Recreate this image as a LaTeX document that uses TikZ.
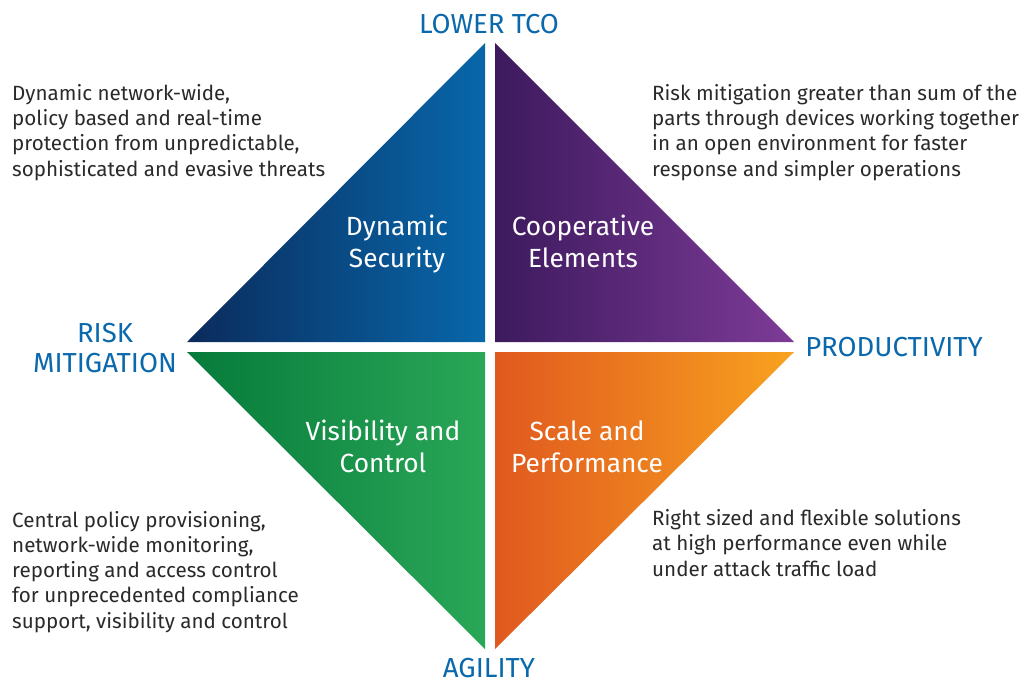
\documentclass[tikz,border=0pt]{standalone}
\usepackage{fontspec}
\setmainfont{Fira Sans}
\definecolor{lblblue}{HTML}{0A68AC}
\definecolor{txtgray}{HTML}{2A2A2A}
\definecolor{bluL}{HTML}{0B2B5C}
\definecolor{bluR}{HTML}{0867AA}
\definecolor{purL}{HTML}{3D1A5E}
\definecolor{purR}{HTML}{7D3B97}
\definecolor{grnL}{HTML}{067A3B}
\definecolor{grnR}{HTML}{2AA757}
\definecolor{orgL}{HTML}{E0591F}
\definecolor{orgR}{HTML}{F8A21F}
\begin{document}
\begin{tikzpicture}[x=1pt,y=-1pt,
  axislabel/.style={text=lblblue, font=\fontsize{27.5}{30}\selectfont, inner sep=0pt, anchor=base},
  quadtext/.style={text=white, font=\fontsize{26.3}{32}\selectfont, align=center, inner sep=0pt, anchor=base},
  desc/.style={text=txtgray, font=\fontsize{20.6}{25.2}\selectfont, align=left, inner sep=0pt, anchor=base west}
]
\useasboundingbox[fill=white] (0,0) rectangle (1031,683);
% quadrants
\shade[left color=bluL, right color=bluR] (187,342) -- (485,43) -- (485,342) -- cycle;
\shade[left color=purL, right color=purR] (495,43) -- (495,342) -- (794,342) -- cycle;
\shade[left color=grnL, right color=grnR] (187,352) -- (485,352) -- (485,649) -- cycle;
\shade[left color=orgL, right color=orgR] (495,352) -- (794,352) -- (495,649) -- cycle;
% quadrant texts (base = last line)
\node[quadtext] (qds) at (397,267) {Dynamic\\Security};
\node[quadtext] (qce) at (583,267) {Cooperative\\Elements};
\node[quadtext] (qvc) at (383,472) {Visibility and\\Control};
\node[quadtext] (qsp) at (587,472) {Scale and\\Performance};
% axis labels
\node[axislabel] (ltco) at (489,33) {LOWER TCO};
\node[axislabel, align=center] (risk) at (105,372) {RISK\\MITIGATION};
\node[axislabel] (prod) at (894,356) {PRODUCTIVITY};
\node[axislabel] (agil) at (489,677) {AGILITY};
% descriptions (base = last line)
\node[desc] (dtl) at (12,176) {Dynamic network-wide,\\policy based and real-time\\protection from unpredictable,\\sophisticated and evasive threats};
\node[desc] (dtr) at (652,176) {Risk mitigation greater than sum of the\\parts through devices working together\\in an open environment for faster\\response and simpler operations};
\node[desc] (dbl) at (12,628) {Central policy provisioning,\\network-wide monitoring,\\reporting and access control\\for unprecedented compliance\\support, visibility and control};
\node[desc] (dbr) at (652,576) {Right sized and flexible solutions\\at high performance even while\\under attack traffic load};
\end{tikzpicture}
\end{document}
